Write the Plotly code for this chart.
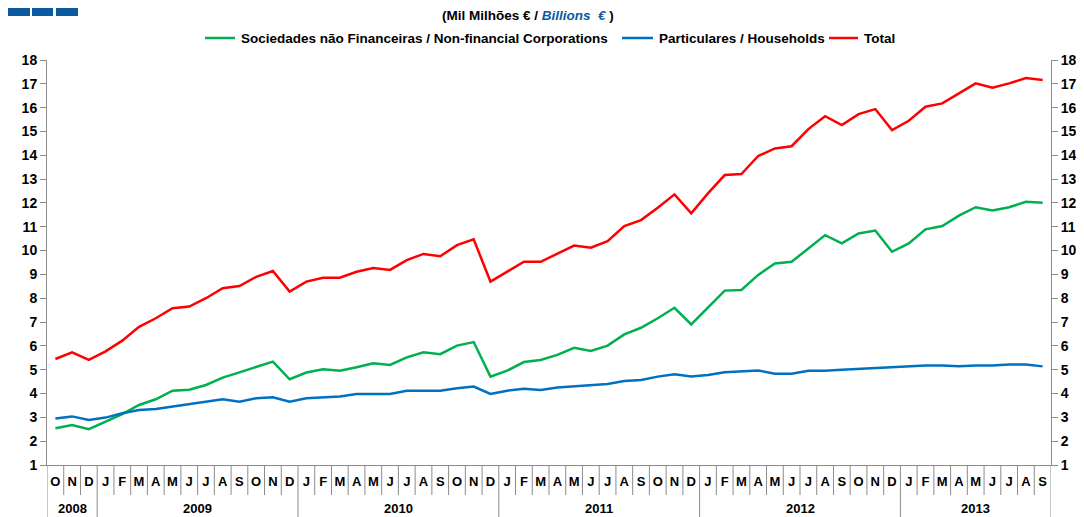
import plotly.graph_objects as go

# ---------------- data ----------------
months = (["O", "N", "D"]
          + ["J", "F", "M", "A", "M", "J", "J", "A", "S", "O", "N", "D"] * 4
          + ["J", "F", "M", "A", "M", "J", "J", "A", "S"])
years = ["2008", "2009", "2010", "2011", "2012", "2013"]
year_counts = [3, 12, 12, 12, 12, 9]

nfc = [2.54, 2.68, 2.50, 2.82, 3.14, 3.52, 3.76, 4.12, 4.16, 4.36,
       4.67, 4.89, 5.13, 5.34, 4.60, 4.88, 5.02, 4.96, 5.10, 5.27,
       5.20, 5.52, 5.73, 5.65, 6.01, 6.16, 4.71, 4.96, 5.32, 5.41,
       5.62, 5.92, 5.79, 6.01, 6.48, 6.76, 7.16, 7.60, 6.90, 7.62,
       8.32, 8.35, 8.98, 9.46, 9.53, 10.09, 10.65, 10.30, 10.72, 10.84,
       9.95, 10.30, 10.89, 11.03, 11.47, 11.82, 11.68, 11.82, 12.05, 12.01]

households = [2.95, 3.04, 2.89, 2.99, 3.17, 3.31, 3.35, 3.45, 3.55, 3.66,
              3.76, 3.66, 3.80, 3.84, 3.66, 3.80, 3.84, 3.88, 3.98, 3.98,
              3.98, 4.12, 4.12, 4.12, 4.22, 4.29, 3.98, 4.12, 4.20, 4.15,
              4.25, 4.29, 4.33, 4.40, 4.53, 4.57, 4.71, 4.81, 4.71, 4.78,
              4.89, 4.93, 4.97, 4.83, 4.83, 4.96, 4.96, 5.00, 5.04, 5.08,
              5.10, 5.13, 5.18, 5.18, 5.14, 5.18, 5.18, 5.22, 5.22, 5.14]

total = [5.45, 5.73, 5.41, 5.77, 6.22, 6.80, 7.16, 7.58, 7.65, 8.00,
         8.42, 8.51, 8.90, 9.14, 8.28, 8.70, 8.86, 8.86, 9.11, 9.27,
         9.19, 9.60, 9.86, 9.76, 10.23, 10.47, 8.70, 9.11, 9.53, 9.53,
         9.86, 10.21, 10.12, 10.40, 11.03, 11.28, 11.80, 12.36, 11.56, 12.40,
         13.17, 13.21, 13.97, 14.29, 14.38, 15.10, 15.64, 15.27, 15.73, 15.94,
         15.06, 15.45, 16.04, 16.18, 16.60, 17.02, 16.84, 17.02, 17.24, 17.16]

series_names = ["Sociedades não Financeiras / Non-financial Corporations",
                "Particulares / Households", "Total"]
series_colors = ["#00b050", "#0070c0", "#ff0000"]
y_ticks = list(range(1, 19))

# ---------------- figure ----------------
# the page body has an 8px margin, so the figure is drawn 8px in from the corner
OFF = 8
W, H = 1084 - OFF, 517 - OFF
ML, MT = 47 - OFF, 60 - OFF          # plot area left / top (page px 47, 60)
MR = W - (1051 - OFF)                 # plot area right edge at page px 1051
MB = H - (465 - OFF)                  # plot area bottom at page px 465
plot_w = W - ML - MR
plot_h = H - MT - MB
FONT = "Liberation Sans, Arial, sans-serif"


def px_x(px):
    return (px - OFF - ML) / plot_w


def px_y(px):
    return 1 + (MT - (px - OFF)) / plot_h


x = list(range(len(months)))
fig = go.Figure()
for vals, name, col in zip([nfc, households, total], series_names, series_colors):
    fig.add_trace(go.Scatter(x=x, y=vals, mode="lines", name=name,
                             showlegend=False,
                             line=dict(color=col, width=2.5)))
# invisible trace for right axis
fig.add_trace(go.Scatter(x=[x[0]], y=[total[0]], yaxis="y2", mode="lines",
                         showlegend=False, hoverinfo="skip",
                         line=dict(color="rgba(0,0,0,0)")))

axis_gray = "#8c8c8c"
fig.update_layout(
    width=W, height=H,
    margin=dict(l=ML, r=MR, t=MT, b=MB, autoexpand=False),
    paper_bgcolor="white", plot_bgcolor="white",
    font=dict(family=FONT, size=13, color="black"),
    showlegend=False,
    xaxis=dict(range=[-0.5, len(months) - 0.5], tickmode="array",
               tickvals=x, ticktext=months, ticks="", showgrid=False,
               zeroline=False, showline=True, linecolor=axis_gray, linewidth=1,
               automargin=False,
               tickfont=dict(family=FONT, size=13, color="black", weight="bold"),
               ticklabelstandoff=4),
    yaxis=dict(range=[1, 18], tickmode="array", tickvals=y_ticks,
               showgrid=False, zeroline=False, showline=True,
               linecolor=axis_gray, linewidth=1, ticks="outside",
               ticklen=6, tickcolor=axis_gray, automargin=False,
               tickfont=dict(family=FONT, size=14, color="black", weight="bold")),
    yaxis2=dict(range=[1, 18], tickmode="array", tickvals=y_ticks,
                overlaying="y", side="right", showgrid=False, zeroline=False,
                showline=True, linecolor=axis_gray, linewidth=1,
                ticks="outside", ticklen=6, tickcolor=axis_gray, automargin=False,
                tickfont=dict(family=FONT, size=14, color="black", weight="bold")),
)

# month / year separators below the axis
month_sep = -30 / plot_h
year_sep = -52 / plot_h
year_bounds = [-0.5]
for c in year_counts:
    year_bounds.append(year_bounds[-1] + c)
for i in range(len(months) + 1):
    xb = i - 0.5
    y1 = year_sep if xb in year_bounds else month_sep
    fig.add_shape(type="line", xref="x", yref="paper", x0=xb, x1=xb,
                  y0=0, y1=y1, line=dict(color=axis_gray, width=1))

# year labels
for yr, a, b in zip(years, year_bounds[:-1], year_bounds[1:]):
    fig.add_annotation(x=(a + b) / 2, xref="x", y=-43 / plot_h, yref="paper",
                       text=yr, showarrow=False, yanchor="middle",
                       font=dict(family=FONT, size=13, color="black", weight="bold"))

# title
fig.add_annotation(xref="paper", x=px_x(528), yref="paper", y=px_y(16),
                   yanchor="middle", showarrow=False,
                   text="<b>(Mil Milhões € / <i><span style='color:#0b5aa0'>Billions  €</span></i> )</b>",
                   font=dict(family=FONT, size=13.5, color="black"))

# legend (drawn manually so it does not move the plot area)
legend_items = [(205, 235, 239), (622, 653, 657), (829, 858, 862)]
for (l0, l1, tx), name, col in zip(legend_items, series_names, series_colors):
    fig.add_shape(type="line", xref="paper", yref="paper",
                  x0=px_x(l0), x1=px_x(l1), y0=px_y(38), y1=px_y(38),
                  line=dict(color=col, width=2.5))
    fig.add_annotation(xref="paper", x=px_x(tx), xanchor="left",
                       yref="paper", y=px_y(38), yanchor="middle",
                       showarrow=False, text="<b>" + name + "</b>",
                       font=dict(family=FONT, size=13.5, color="black"))

# decorative blue squares in top-left corner
for x0, x1 in [(8, 30), (32, 53), (56, 78)]:
    fig.add_shape(type="rect", xref="paper", yref="paper",
                  x0=px_x(x0), x1=px_x(x1), y0=px_y(16), y1=px_y(3),
                  fillcolor="#0b5aa0", line=dict(width=0))

fig.write_html("out.html")
